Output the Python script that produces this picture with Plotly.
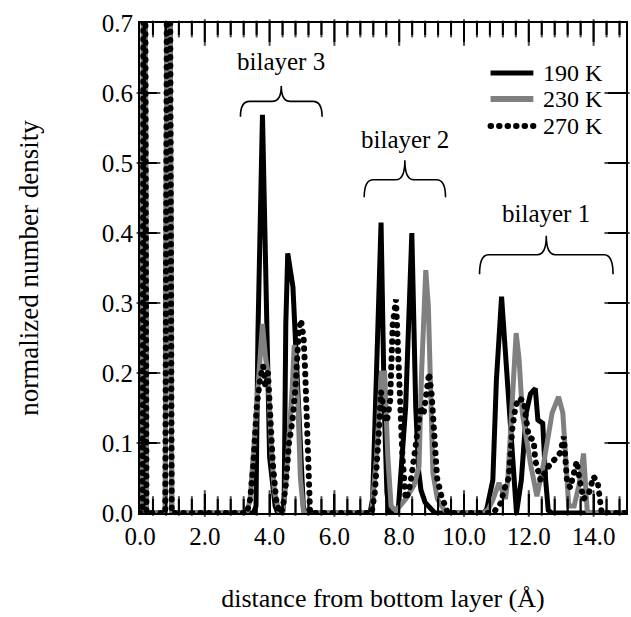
import plotly.graph_objects as go

# ---------------- data ----------------
x_190 = [0.0, 0.08, 0.13, 0.17, 0.20, 0.78, 0.88, 0.98,
         3.50, 3.58, 3.64, 3.78, 3.90, 4.00, 4.17, 4.25,
         4.40, 4.45, 4.50, 4.56, 4.72, 4.79, 4.87, 4.97, 5.04, 5.10,
         7.10, 7.18, 7.26, 7.44, 7.54, 7.62, 7.70,
         7.90, 7.98, 8.20, 8.39, 8.51, 8.60, 8.67, 8.80, 9.00, 9.10,
         10.60, 10.70, 10.89, 11.00, 11.16, 11.33, 11.54, 11.62,
         11.77, 11.92, 12.05, 12.20, 12.28, 12.43, 12.52, 12.60, 12.70, 15.0]
y_190 = [0.0, 0.0, 1.5, 0.43, 0.0, 0.0, 1.5, 0.0,
         0.0, 0.01, 0.257, 0.569, 0.257, 0.08, 0.01, 0.0,
         0.0, 0.02, 0.27, 0.371, 0.323, 0.257, 0.161, 0.066, 0.01, 0.0,
         0.0, 0.02, 0.152, 0.415, 0.152, 0.03, 0.0,
         0.0, 0.01, 0.152, 0.40, 0.152, 0.06, 0.033, 0.015, 0.004, 0.0,
         0.0, 0.005, 0.047, 0.19, 0.309, 0.19, 0.047, 0.0,
         0.047, 0.143, 0.17, 0.178, 0.133, 0.128, 0.047, 0.004, 0.0, 0.0]

x_230 = [0.0, 0.08, 0.13, 0.17, 0.20, 0.78, 0.88, 0.98,
         3.30, 3.40, 3.52, 3.65, 3.78, 3.88, 3.95, 4.05, 4.15, 4.30,
         4.40, 4.50, 4.60, 4.70, 4.76, 4.88, 4.95, 5.05,
         7.15, 7.30, 7.45, 7.55, 7.65, 7.75, 7.90,
         8.20, 8.46, 8.61, 8.69, 8.77, 8.82, 8.90, 8.97, 9.04, 9.18, 9.38, 9.50,
         10.60, 10.75, 10.90, 11.08, 11.20, 11.28, 11.35, 11.46, 11.61,
         11.70, 11.80, 12.05, 12.25, 12.46, 12.72, 12.92, 13.05, 13.15, 13.23,
         13.40, 13.55, 13.69, 13.80, 13.85, 15.0]
y_230 = [0.0, 0.0, 1.5, 0.43, 0.0, 0.0, 1.5, 0.0,
         0.0, 0.02, 0.10, 0.20, 0.27, 0.22, 0.20, 0.10, 0.03, 0.0,
         0.0, 0.04, 0.10, 0.18, 0.24, 0.15, 0.05, 0.0,
         0.0, 0.08, 0.20, 0.20, 0.08, 0.01, 0.003,
         0.02, 0.04, 0.066, 0.20, 0.32, 0.347, 0.295, 0.176, 0.057, 0.02, 0.005, 0.0,
         0.0, 0.005, 0.02, 0.043, 0.03, 0.02, 0.047, 0.143, 0.257,
         0.22, 0.143, 0.071, 0.024, 0.071, 0.143, 0.166, 0.143, 0.071, 0.01,
         0.01, 0.04, 0.085, 0.005, 0.0, 0.0]

x_270 = [0.0, 0.08, 0.13, 0.17, 0.20, 0.78, 0.88, 0.98,
         3.30, 3.40, 3.50, 3.60, 3.70, 3.80, 3.87, 3.95, 4.00, 4.10, 4.20, 4.30,
         4.40, 4.50, 4.60, 4.70, 4.80, 4.90, 4.97, 5.05, 5.10, 5.15, 5.20, 5.25,
         7.15, 7.25, 7.35, 7.44, 7.54, 7.62, 7.72, 7.80, 7.90, 8.00, 8.10, 8.20,
         8.30, 8.40, 8.51, 8.60, 8.67, 8.75, 8.85, 8.92, 9.00, 9.05, 9.17, 9.30,
         9.38, 9.50,
         10.90, 11.00, 11.15, 11.23, 11.38, 11.49, 11.59, 11.69, 11.85, 11.90,
         12.00, 12.15, 12.20, 12.30, 12.36, 12.60, 12.77, 12.97, 13.08, 13.13,
         13.18, 13.28, 13.38, 13.48, 13.57, 13.69, 13.85, 14.00, 14.13, 14.20,
         14.25, 15.0]
y_270 = [0.0, 0.0, 1.5, 0.43, 0.0, 0.0, 1.5, 0.0,
         0.0, 0.02, 0.07, 0.15, 0.19, 0.21, 0.18, 0.20, 0.15, 0.07, 0.02, 0.0,
         0.005, 0.04, 0.10, 0.13, 0.18, 0.26, 0.276, 0.25, 0.20, 0.12, 0.05, 0.0,
         0.0, 0.03, 0.10, 0.173, 0.143, 0.13, 0.16, 0.27, 0.305, 0.186, 0.08, 0.02,
         0.03, 0.06, 0.095, 0.13, 0.152, 0.14, 0.18, 0.20, 0.17, 0.13, 0.05, 0.025,
         0.015, 0.0,
         0.0, 0.005, 0.015, 0.033, 0.05, 0.12, 0.152, 0.164, 0.16, 0.14,
         0.109, 0.104, 0.075, 0.058, 0.047, 0.066, 0.076, 0.086, 0.109, 0.067,
         0.045, 0.036, 0.052, 0.074, 0.047, 0.02, 0.028, 0.052, 0.043, 0.014,
         0.0, 0.0]

series_names = ["190 K", "230 K", "270 K"]

# axis settings
x_range, y_range = (0.0, 15.0), (0.0, 0.7)
x_dtick, x_minor_per_major = 2.0, 5
y_dtick = 0.1

# bilayer labels: (text, x0, x1, y_end, y_flat, y_cusp, label_y)
bilayers = [
    ("bilayer 3", 3.10, 5.62, 0.566, 0.588, 0.610, 0.645),
    ("bilayer 2", 6.92, 9.43, 0.451, 0.476, 0.504, 0.534),
    ("bilayer 1", 10.48, 14.60, 0.341, 0.369, 0.396, 0.428),
]

FONT = "Liberation Serif, Times New Roman, serif"
DOT_DASH = "5px,3px"

W, H = 631, 617
MARGIN = dict(l=140, r=3, t=23, b=104)
plot_w = W - MARGIN["l"] - MARGIN["r"]
plot_h = H - MARGIN["t"] - MARGIN["b"]
px_x = (x_range[1] - x_range[0]) / plot_w
px_y = (y_range[1] - y_range[0]) / plot_h

fig = go.Figure()
fig.add_trace(go.Scatter(x=x_190, y=y_190, mode="lines", name=series_names[0],
                         line=dict(color="black", width=5), showlegend=False))
fig.add_trace(go.Scatter(x=x_230, y=y_230, mode="lines", name=series_names[1],
                         line=dict(color="#808080", width=5), showlegend=False))
fig.add_trace(go.Scatter(x=x_270, y=y_270, mode="lines", name=series_names[2],
                         line=dict(color="black", width=6, dash=DOT_DASH), showlegend=False))

# inside tick marks on all four sides
tx, ty = [], []                 # line segments
mx_v, my_v, ms_v = [], [], []   # vertical tick markers (x axis)
mx_h, my_h, ms_h = [], [], []   # horizontal tick markers (y axis)
n_minor = int(round((x_range[1] - x_range[0]) / (x_dtick / x_minor_per_major)))
for i in range(1, n_minor):
    xv = x_range[0] + i * x_dtick / x_minor_per_major
    major = (i % x_minor_per_major == 0)
    lb = 19 if major else 14
    lt = 19 if major else 12
    tx += [xv, xv, None, xv, xv, None]
    ty += [y_range[0], y_range[0] + lb * px_y, None, y_range[1], y_range[1] - lt * px_y, None]
    mx_v += [xv, xv]
    my_v += [y_range[0] + lb * px_y / 2, y_range[1] - lt * px_y / 2]
    ms_v += [lb, lt]
n_y = int(round((y_range[1] - y_range[0]) / y_dtick))
for j in range(1, n_y):
    yv = y_range[0] + j * y_dtick
    tx += [x_range[0], x_range[0] + 17 * px_x, None, x_range[1], x_range[1] - 18 * px_x, None]
    ty += [yv, yv, None, yv, yv, None]
    mx_h += [x_range[0] + 17 * px_x / 2, x_range[1] - 18 * px_x / 2]
    my_h += [yv, yv]
    ms_h += [17, 18]
fig.add_trace(go.Scatter(x=tx, y=ty, mode="lines", line=dict(color="black", width=2),
                         hoverinfo="skip", showlegend=False, name="ticks"))
fig.add_trace(go.Scatter(x=mx_v, y=my_v, mode="markers", hoverinfo="skip", showlegend=False,
                         cliponaxis=False, name="xticks",
                         marker=dict(symbol="line-ns", size=ms_v, color="black",
                                     line=dict(color="black", width=2))))
fig.add_trace(go.Scatter(x=mx_h, y=my_h, mode="markers", hoverinfo="skip", showlegend=False,
                         cliponaxis=False, name="yticks",
                         marker=dict(symbol="line-ew", size=ms_h, color="black",
                                     line=dict(color="black", width=2))))

shapes = []
annotations = []
for text, x0, x1, ye, yf, yc, ly in bilayers:
    xm = (x0 + x1) / 2
    r = 0.28
    path = (f"M {x0},{ye} Q {x0},{yf} {x0 + r},{yf} L {xm - r},{yf} "
            f"Q {xm},{yf} {xm},{yc} Q {xm},{yf} {xm + r},{yf} "
            f"L {x1 - r},{yf} Q {x1},{yf} {x1},{ye}")
    shapes.append(dict(type="path", path=path, xref="x", yref="y",
                       line=dict(color="black", width=1.6)))
    annotations.append(dict(text=text, x=xm, y=ly, xref="x", yref="y",
                            showarrow=False, font=dict(family=FONT, size=25, color="black")))

# manual legend
leg_styles = [dict(color="black", width=5), dict(color="#808080", width=6),
              dict(color="black", width=6, dash=DOT_DASH)]
leg_y = [0.898, 0.845, 0.790]
for name, st, yy in zip(series_names, leg_styles, leg_y):
    shapes.append(dict(type="line", xref="paper", yref="paper", x0=0.7213, x1=0.8094,
                       y0=yy, y1=yy, line=st))
    annotations.append(dict(text=name, x=0.8258, y=yy, xref="paper", yref="paper",
                            xanchor="left", yanchor="middle", showarrow=False,
                            font=dict(family=FONT, size=24, color="black")))

fig.update_layout(
    width=W, height=H,
    margin=MARGIN,
    paper_bgcolor="white", plot_bgcolor="white",
    font=dict(family=FONT, size=25, color="black"),
    shapes=shapes, annotations=annotations,
    showlegend=False,
)
fig.update_xaxes(
    range=list(x_range), tickmode="linear", tick0=0, dtick=x_dtick, tickformat=".1f",
    ticks="inside", ticklen=19, tickwidth=2, tickcolor="black",
    showline=True, linewidth=2, linecolor="black", mirror=True,
    showgrid=False, zeroline=False,
    tickfont=dict(family=FONT, size=25),
    title=dict(text="distance from bottom layer (Å)", font=dict(family=FONT, size=26), standoff=40),
)
fig.update_yaxes(
    range=list(y_range), tickmode="linear", tick0=0, dtick=y_dtick, tickformat=".1f",
    ticks="inside", ticklen=17, tickwidth=2, tickcolor="black",
    showline=True, linewidth=2, linecolor="black", mirror=True,
    showgrid=False, zeroline=False,
    tickfont=dict(family=FONT, size=25),
    title=dict(text="normalized number density", font=dict(family=FONT, size=27), standoff=55),
)

# render the 270 K dashes as round dots
post = """
var gd = document.getElementById('{plot_id}');
function roundDots(){
  var ps = gd.querySelectorAll('path');
  ps.forEach(function(p){
    var d = (p.style.strokeDasharray || '').replace(/\\s/g,'');
    if (d === '5px,3px' || p.getAttribute('data-dotted') === '1') {
      p.setAttribute('data-dotted','1');
      p.style.strokeLinecap = 'round';
      p.style.strokeDasharray = '0.5px,8px';
    }
  });
}
roundDots();
gd.on('plotly_afterplot', roundDots);
"""

fig.write_html("out.html", post_script=post)
